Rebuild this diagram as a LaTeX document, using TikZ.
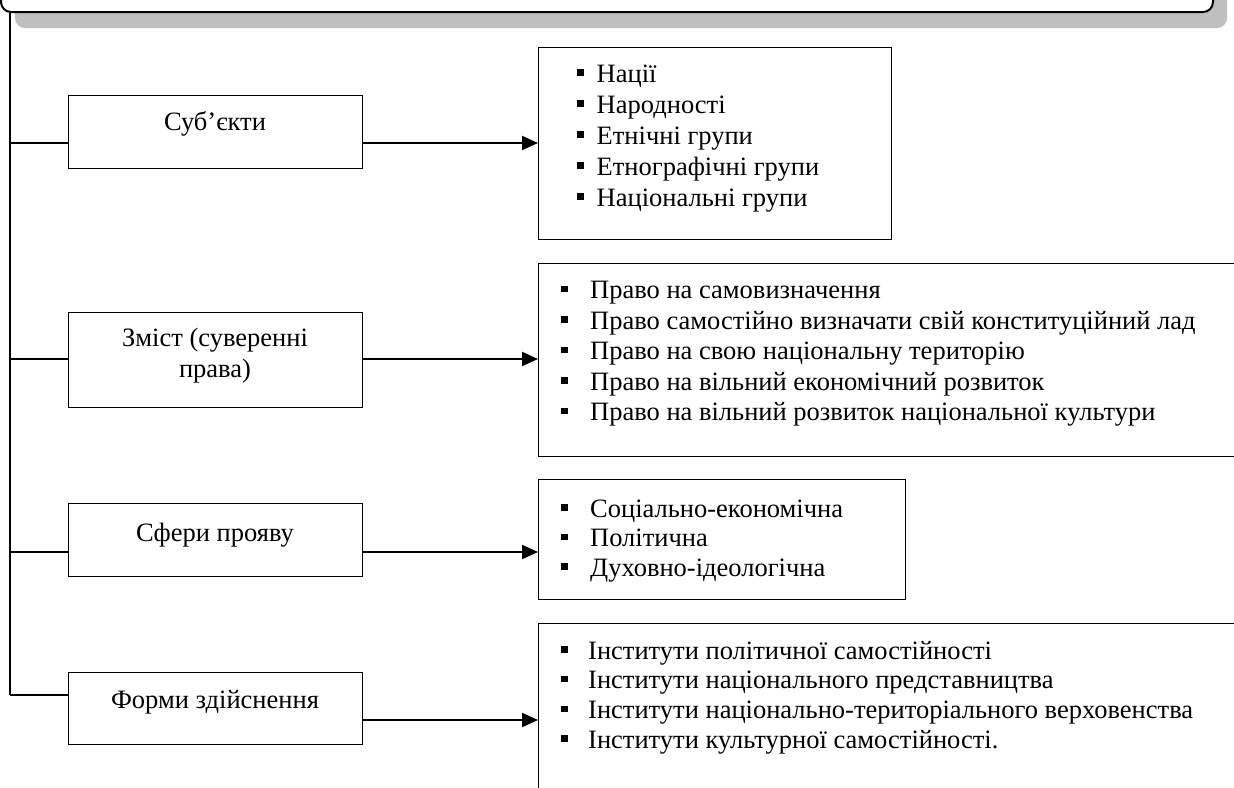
\documentclass[tikz,border=0pt]{standalone}
\usepackage{fontspec}
\setmainfont{Liberation Serif}
\usetikzlibrary{arrows.meta,shadows}
\newcommand\sqb{\rule[6.5pt]{6.5pt}{6.5pt}}
\begin{document}
\begin{tikzpicture}[x=1pt,y=-1pt,
  box/.style={draw, line width=1.3pt, inner sep=0pt, rectangle, anchor=north west},
  lbl/.style={anchor=base, inner sep=0pt, font=\fontsize{26.5}{30.5}\selectfont},
  lst/.style={anchor=base west, inner sep=0pt},
  arr/.style={line width=2pt, -{Triangle[length=16pt,width=14pt]}},
  stub/.style={line width=1.2pt}]
\useasboundingbox (0,0) rectangle (1234,787);
\fill[white] (0,0) rectangle (1234,787);
\clip (0,0) rectangle (1234,787);

% title box (cut by top edge)
\node[draw, line width=2pt, rounded corners=10pt, minimum width=1212pt, minimum height=62pt,
      inner sep=0pt, fill=white,
      general shadow={fill=black!25, shadow xshift=14pt, shadow yshift=-16pt}] (top) at (607,-19) {};

% left boxes
\node[box, minimum width=294pt, minimum height=73pt] (b1) at (68,95) {};
\node[box, minimum width=294pt, minimum height=95pt] (b2) at (68,312) {};
\node[box, minimum width=294pt, minimum height=73pt] (b3) at (68,503) {};
\node[box, minimum width=294pt, minimum height=72pt] (b4) at (68,672) {};

\node[lbl] (l1) at (215,130.5) {Суб’єкти};
\node[lbl] (l2) at (215,346.5) {\begin{tabular}[t]{@{}c@{}}Зміст (суверенні\\права)\end{tabular}};
\node[lbl] (l3) at (215,541) {Сфери прояву};
\node[lbl] (l4) at (215,708) {Форми здійснення};

% right boxes
\node[box, minimum width=353pt, minimum height=192pt] (r1) at (538,47) {};
\node[box, minimum width=720pt, minimum height=193pt] (r2) at (538,263) {};
\node[box, minimum width=367pt, minimum height=120pt] (r3) at (538,479) {};
\node[box, minimum width=720pt, minimum height=200pt] (r4) at (538,623) {};

\node[lst] (t1) at (577,82) {\fontsize{26.5}{31}\selectfont
  \begin{tabular}[t]{@{}l@{}}
  \makebox[19.5pt][l]{\sqb}Нації\\
  \makebox[19.5pt][l]{\sqb}Народності\\
  \makebox[19.5pt][l]{\sqb}Етнічні групи\\
  \makebox[19.5pt][l]{\sqb}Етнографічні групи\\
  \makebox[19.5pt][l]{\sqb}Національні групи
  \end{tabular}};

\node[lst] (t2) at (561,298.5) {\fontsize{26.5}{30.5}\selectfont
  \begin{tabular}[t]{@{}l@{}}
  \makebox[29pt][l]{\sqb}Право на самовизначення\\
  \makebox[29pt][l]{\sqb}Право самостійно визначати свій конституційний лад\\
  \makebox[29pt][l]{\sqb}Право на свою національну територію\\
  \makebox[29pt][l]{\sqb}Право на вільний економічний розвиток\\
  \makebox[29pt][l]{\sqb}Право на вільний розвиток національної культури
  \end{tabular}};

\node[lst] (t3) at (561,517) {\fontsize{26.5}{29.5}\selectfont
  \begin{tabular}[t]{@{}l@{}}
  \makebox[29pt][l]{\sqb}Соціально-економічна\\
  \makebox[29pt][l]{\sqb}Політична\\
  \makebox[29pt][l]{\sqb}Духовно-ідеологічна
  \end{tabular}};

\node[lst] (t4) at (561,659) {\fontsize{26.5}{29.8}\selectfont
  \begin{tabular}[t]{@{}l@{}}
  \makebox[27pt][l]{\sqb}Інститути політичної самостійності\\
  \makebox[27pt][l]{\sqb}Інститути національного представництва\\
  \makebox[27pt][l]{\sqb}Інститути національно-територіального верховенства\\
  \makebox[27pt][l]{\sqb}Інститути культурної самостійності.
  \end{tabular}};

% trunk and stubs
\coordinate (tx) at (10,0);
\coordinate (s1) at (10,143);
\coordinate (s2) at (10,359);
\coordinate (s3) at (10,552);
\coordinate (s4) at (10,695);
\draw[stub] (top.south -| tx) -- (s4);
\draw[stub] (s1) -- (s1 -| b1.west);
\draw[stub] (s2) -- (s2 -| b2.west);
\draw[stub] (s3) -- (s3 -| b3.west);
\draw[stub] (s4) -- (s4 -| b4.west);

% arrows
\coordinate (a1) at (0,143);
\coordinate (a2) at (0,359);
\coordinate (a3) at (0,552);
\coordinate (a4) at (0,720);
\draw[arr] (b1.east |- a1) -- (r1.west |- a1);
\draw[arr] (b2.east |- a2) -- (r2.west |- a2);
\draw[arr] (b3.east |- a3) -- (r3.west |- a3);
\draw[arr] (b4.east |- a4) -- (r4.west |- a4);
\end{tikzpicture}
\end{document}
